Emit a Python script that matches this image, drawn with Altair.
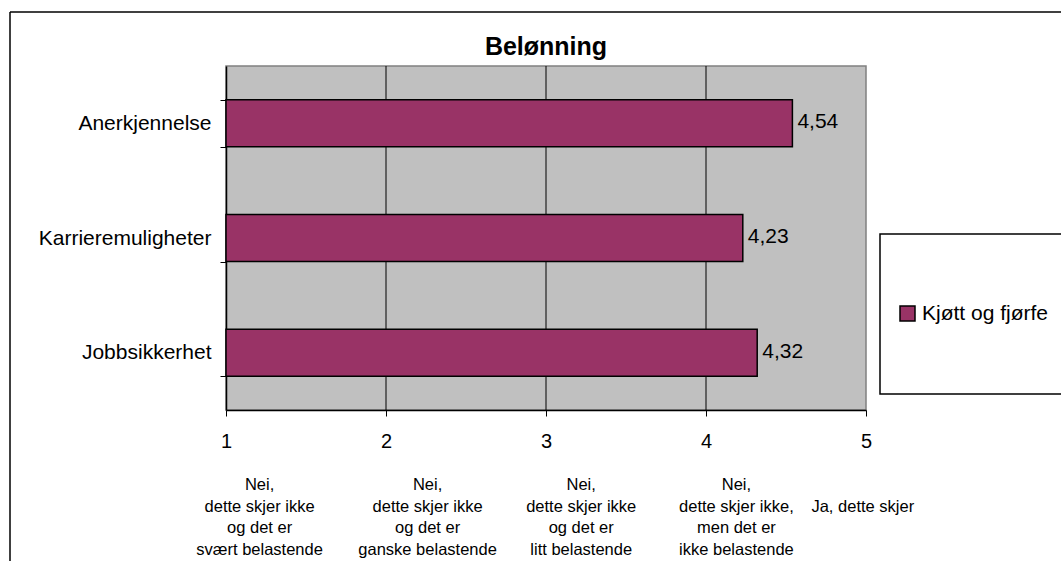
import altair as alt
import pandas as pd

# Survey answers (mean score on a 1-5 scale) for one group
categories = ["Anerkjennelse", "Karrieremuligheter", "Jobbsikkerhet"]
values = [4.54, 4.23, 4.32]
series_name = "Kjøtt og fjørfe"
title_text = "Belønning"

x_ticks = [1, 2, 3, 4, 5]
grid_values = [2, 3, 4]

# Meaning of each answer alternative, printed under the axis
scale_notes = [
    "Nei,\ndette skjer ikke\nog det er\nsvært belastende",
    "Nei,\ndette skjer ikke\nog det er\nganske belastende",
    "Nei,\ndette skjer ikke\nog det er\nlitt belastende",
    "Nei,\ndette skjer ikke,\nmen det er\nikke belastende",
    "\nJa, dette skjer",
]
note_positions = [1.21, 2.26, 3.22, 4.19, 4.98]

FONT = "Liberation Sans"
BAR_COLOR = "#993366"

bars_df = pd.DataFrame({"kategori": categories, "verdi": values, "serie": series_name})
bars_df["etikett"] = [f"{v:.2f}".replace(".", ",") for v in values]
notes_df = pd.DataFrame({"pos": note_positions, "tekst": scale_notes})
grid_df = pd.DataFrame({"g": grid_values})
dummy = alt.Data(values=[{"d": 0}])

x_scale = alt.Scale(domain=[1, 5], nice=False, zero=False)
y_scale = alt.Scale(paddingInner=0.59, paddingOuter=0.295)

grid = alt.Chart(grid_df).mark_rule(color="black", strokeWidth=1).encode(
    x=alt.X("g:Q", scale=x_scale)
)

bars = alt.Chart(bars_df).mark_bar(stroke="black", strokeWidth=1.5).encode(
    y=alt.Y(
        "kategori:N",
        sort=categories,
        scale=y_scale,
        axis=alt.Axis(
            title=None,
            tickBand="extent",
            grid=False,
            domainColor="black",
            domainWidth=1.5,
            tickColor="black",
            tickSize=6,
            tickWidth=1,
            labelFont=FONT,
            labelFontSize=21,
            labelColor="black",
            labelPadding=9,
            labelLimit=400,
        ),
    ),
    x=alt.X(
        "verdi:Q",
        scale=x_scale,
        axis=alt.Axis(
            title=None,
            values=x_ticks,
            format="d",
            grid=False,
            domainColor="black",
            domainWidth=1.5,
            tickColor="black",
            tickSize=6,
            tickWidth=1,
            labelFont=FONT,
            labelFontSize=20,
            labelColor="black",
            labelPadding=15,
            labelFlush=False,
        ),
    ),
    x2=alt.datum(1),
    color=alt.Color(
        "serie:N",
        scale=alt.Scale(domain=[series_name], range=[BAR_COLOR]),
        legend=alt.Legend(
            title=None,
            orient="none",
            legendX=671,
            legendY=237,
            padding=0,
            symbolType="square",
            symbolSize=225,
            symbolStrokeColor="black",
            symbolStrokeWidth=1.5,
            symbolOpacity=1,
            labelFont=FONT,
            labelFontSize=21,
            labelColor="black",
            labelOffset=4,
        ),
    ),
)

value_labels = alt.Chart(bars_df).mark_text(
    align="left", baseline="middle", dx=5, dy=-1, font=FONT, fontSize=21, color="black"
).encode(
    y=alt.Y("kategori:N", sort=categories),
    x=alt.X("verdi:Q"),
    text="etikett:N",
)

notes = alt.Chart(notes_df).mark_text(
    align="center",
    baseline="alphabetic",
    lineBreak="\n",
    lineHeight=21.7,
    font=FONT,
    fontSize=16.5,
    color="black",
).encode(
    x=alt.X("pos:Q"),
    y=alt.value(424),
    text="tekst:N",
)

title = alt.Chart(dummy).mark_text(
    text=title_text,
    font=FONT,
    fontSize=25,
    fontWeight="bold",
    align="center",
    baseline="alphabetic",
    color="black",
).encode(x=alt.value(320), y=alt.value(-11))

# Outer chart frame (top and left edges) and the legend box
frame_left = alt.Chart(dummy).mark_rule(color="black", strokeWidth=1.5).encode(
    x=alt.value(-216), y=alt.value(-54), y2=alt.value(495)
)
frame_top = alt.Chart(dummy).mark_rule(color="black", strokeWidth=1.5).encode(
    x=alt.value(-216), x2=alt.value(835), y=alt.value(-54)
)
legend_box = alt.Chart(dummy).mark_rect(
    fill="white", stroke="black", strokeWidth=1.5
).encode(
    x=alt.value(654), x2=alt.value(860), y=alt.value(168), y2=alt.value(328)
)

chart = (
    alt.layer(frame_left, frame_top, legend_box, grid, bars, value_labels, notes, title)
    .properties(
        width=640,
        height=344,
        autosize=alt.AutoSizeParams(type="none"),
        padding={"left": 226, "top": 66, "right": 195, "bottom": 151},
        background="white",
    )
    .configure_view(fill="#C0C0C0", stroke="#808080", strokeWidth=1.5)
)

chart.save("out.html", embed_options={"renderer": "svg", "actions": False})
